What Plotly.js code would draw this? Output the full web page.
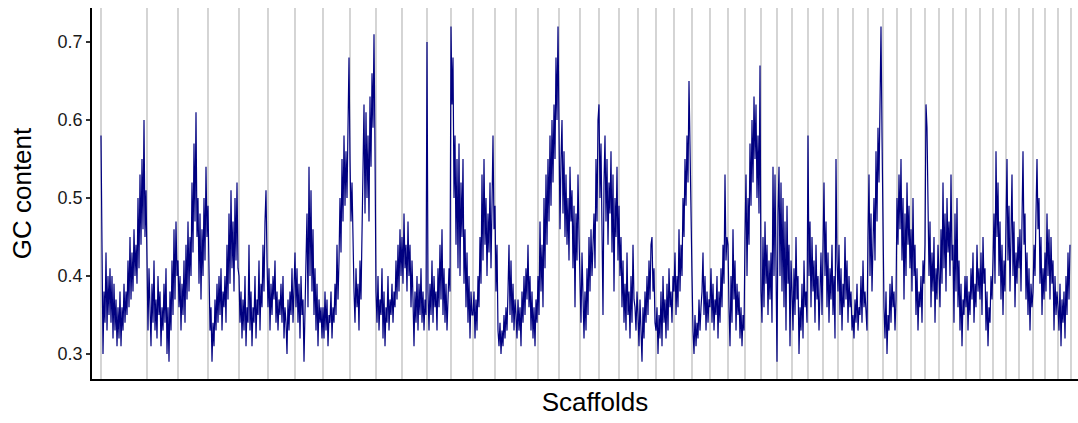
<!DOCTYPE html>
<html>
<head>
<meta charset="utf-8">
<script src="https://cdn.plot.ly/plotly-3.0.1.min.js"></script>
<style>html,body{margin:0;padding:0;overflow:hidden;background:#fff}</style>
</head>
<body>
<div id="chart" style="width:1098px;height:423px"></div>
<script>
// GC content per window, grouped by scaffold (scaffolds sorted by length)
const gcByScaffold = [
  [.58,.36,.30,.38,.34,.43,.33,.40,.35,.41,.34,.40,.32,.39,.33,.37,.31,.36,.32,.38,.31,.36,.33,.39,.34,.38,.35,.42,.36,.45,.37,.43,.38,.46,.40,.44,.39,.50,.41,.53,.44,.55,.46,.60,.45,.51],
  [.38,.33,.41,.35,.31,.39,.34,.42,.33,.37,.32,.40,.35,.38,.31,.36,.33,.39,.34,.41,.30,.36,.29,.38,.33,.42,.35,.46,.37,.47,.40],
  [.42,.36,.40,.33,.39,.35,.42,.34,.44,.37,.47,.38,.45,.40,.52,.43,.57,.47,.61,.45,.50,.39,.48,.37,.46,.40,.50,.42,.54,.45],
  [.49,.38,.33,.36,.29,.34,.31,.37,.33,.39,.34,.40,.35,.41,.33,.38,.36,.40,.34,.44,.37,.48,.39,.51,.41,.47,.38,.50,.42,.52,.41],
  [.40,.34,.38,.32,.37,.33,.40,.31,.36,.34,.44,.33,.38,.31,.36,.34,.40,.32,.37,.35,.42,.33,.39,.36,.44,.38,.47,.51,.42],
  [.36,.41,.33,.39,.35,.40,.37,.42,.34,.38,.33,.37,.35,.39,.34,.40,.32,.36,.34,.30,.37,.33,.38,.35,.41,.34,.38],
  [.43,.36,.41,.34,.39,.32,.40,.35,.37,.29,.38,.42,.48,.36,.54,.40,.51,.38,.46,.35,.41,.33,.39,.31,.37,.34,.36,.32],
  [.36,.32,.38,.33,.37,.31,.35,.34,.38,.32,.36,.34,.39,.35,.44,.37,.42,.50,.43,.55,.47,.58,.49,.56,.50,.61,.68],
  [.55,.47,.52,.42,.38,.34,.41,.36,.39,.33,.42,.37,.45,.52,.62,.48,.61,.50,.58,.47,.63,.54,.66,.59,.71,.56],
  [.38,.34,.40,.33,.37,.35,.41,.32,.38,.31,.36,.34,.40,.33,.37,.35,.39,.34,.38,.36,.42,.37,.44,.38,.46,.40],
  [.45,.39,.48,.41,.44,.38,.47,.40,.44,.36,.42,.37,.31,.38,.34,.40,.33,.39,.35,.41,.34,.38,.33,.37,.35],
  [.70,.38,.33,.39,.35,.42,.34,.40,.36,.38,.33,.41,.36,.44,.37,.46,.35,.41,.34,.39,.33,.37,.41,.38],
  [.72,.62,.68,.50,.58,.44,.55,.41,.57,.40,.52,.45,.55,.39,.46,.36,.43,.34,.40,.32,.38,.35],
  [.35,.38,.32,.37,.33,.40,.36,.45,.39,.53,.42,.55,.44,.50,.40,.48,.43,.52,.41,.49,.58,.46],
  [.49,.38,.44,.33,.31,.34,.30,.33,.31,.35,.32,.36,.33,.38,.44,.35,.42,.34,.39,.33,.37],
  [.35,.32,.37,.33,.36,.31,.38,.34,.40,.35,.41,.37,.44,.36,.40,.33,.38,.32,.36,.31,.37,.34],
  [.40,.35,.47,.38,.44,.36,.50,.41,.53,.44,.55,.47,.58,.49,.60,.52,.62,.55,.68,.60,.72],
  [.52,.46,.55,.60,.48,.56,.45,.53,.44,.50,.42,.54,.47,.51,.41,.49,.36,.48,.42,.53,.45],
  [.40,.34,.43,.36,.32,.38,.33,.41,.35,.45,.38,.46,.40,.44,.48,.41,.55,.47,.60],
  [.62,.50,.57,.46,.35,.52,.58,.47,.55,.44,.52,.48,.56,.43,.53,.38,.50,.45,.54,.42],
  [.49,.40,.45,.36,.42,.34,.39,.33,.43,.35,.38,.32,.40,.34,.44,.37,.36,.33,.38],
  [.35,.31,.37,.33,.29,.36,.32,.38,.34,.40,.35,.42,.37,.44,.45,.38,.41,.34],
  [.33,.36,.30,.35,.32,.38,.31,.40,.34,.37,.32,.39,.33,.41,.36,.38,.34,.40],
  [.38,.43,.35,.40,.36,.46,.38,.44,.40,.50,.45,.55,.49,.58,.52,.65,.55,.48],
  [.40,.33,.30,.35,.31,.34,.32,.37,.33,.36,.38,.43,.35,.40,.33,.38,.34,.37],
  [.36,.41,.34,.39,.33,.37,.35,.40,.32,.38,.34,.41,.36,.44,.39,.53,.42,.45],
  [.44,.36,.31,.40,.34,.46,.37,.42,.33,.39,.35,.38,.32,.36,.31,.35,.33],
  [.45,.53,.40,.50,.44,.57,.49,.60,.52,.63,.55,.62,.50,.58,.48,.67],
  [.38,.34,.45,.36,.47,.39,.44,.35,.42,.37,.43,.34,.54,.40,.53,.42],
  [.29,.48,.54,.40,.52,.38,.50,.36,.47,.33,.49,.39,.44,.31,.42],
  [.38,.33,.41,.35,.45,.37,.40,.30,.36,.33,.39,.32,.42,.36,.38,.34],
  [.58,.40,.47,.36,.45,.38,.42,.34,.44,.37,.40,.33,.38,.43,.35],
  [.45,.52,.40,.47,.36,.43,.34,.41,.37,.44,.35,.40,.32,.55,.42],
  [.38,.44,.35,.41,.33,.39,.36,.45,.37,.42,.34,.40,.36,.38,.33],
  [.35,.32,.37,.34,.39,.33,.36,.35,.40,.34,.42,.36,.38,.35,.33],
  [.45,.53,.40,.48,.38,.44,.50,.42,.56,.47,.59,.52,.66,.72,.58],
  [.41,.36,.32,.38,.30,.35,.33,.39,.34,.40,.36,.38,.33,.37],
  [.50,.44,.53,.46,.55,.42,.50,.37,.48,.40,.52,.44,.49,.41],
  [.46,.38,.50,.40,.44,.35,.41,.33,.38,.36,.40,.34,.42,.39],
  [.44,.62,.59,.45,.40,.47,.36,.43,.38,.45,.34,.41,.37,.44],
  [.40,.36,.46,.39,.52,.41,.48,.38,.50,.43,.47,.40,.53,.42],
  [.44,.34,.48,.38,.50,.36,.42,.33,.39,.31,.37,.35,.40],
  [.36,.40,.33,.38,.35,.41,.37,.43,.34,.39,.36,.44,.38,.41],
  [.37,.43,.35,.45,.39,.41,.33,.38,.31,.36,.34,.40,.37],
  [.42,.48,.39,.56,.45,.52,.40,.47,.37,.44,.35,.42,.38],
  [.45,.55,.42,.49,.38,.46,.53,.40,.47,.36,.43,.39,.45],
  [.41,.46,.38,.50,.56,.44,.48,.37,.43,.35,.41,.33,.39,.36],
  [.38,.44,.40,.48,.55,.46,.50,.39,.45,.35,.41,.37],
  [.43,.38,.48,.40,.46,.37,.45,.39,.42,.33,.40,.35,.38],
  [.36,.33,.39,.31,.37,.34,.38,.32,.40,.35,.43,.37,.44]
];
const yTickVals = [0.3, 0.4, 0.5, 0.6, 0.7];
const yTickText = ["0.3", "0.4", "0.5", "0.6", "0.7"];
const xTitle = "Scaffolds";
const yTitle = "GC content";

// build the series and the scaffold boundaries
const xs = [], ys = [], boundaries = [0];
let pos = 0;
gcByScaffold.forEach(arr => {
  arr.forEach(v => { xs.push(pos); ys.push(v); pos += 1; });
  boundaries.push(pos);
});

const shapes = boundaries.map(b => ({
  type: "line", xref: "x", yref: "paper", x0: b, x1: b, y0: 0, y1: 1,
  line: {color: "#bebebe", width: 1.3}, layer: "below"
}));

const trace = {
  x: xs, y: ys, type: "scatter", mode: "lines",
  line: {color: "#000080", width: 1.2}, hoverinfo: "skip"
};

const font = "Liberation Sans, Arial, Helvetica, sans-serif";
const layout = {
  width: 1098, height: 423,
  margin: {l: 92, r: 0, t: 8, b: 44},
  paper_bgcolor: "#fff", plot_bgcolor: "#fff",
  showlegend: false,
  font: {family: font, color: "#000"},
  shapes: shapes,
  xaxis: {
    range: [-9, 997], showgrid: false, zeroline: false,
    showticklabels: false, ticks: "",
    showline: true, linecolor: "#000", linewidth: 1.8,
    title: {text: xTitle, font: {size: 26, family: font, color: "#000"}, standoff: 13},
    automargin: false
  },
  yaxis: {
    range: [0.26795, 0.74359], showgrid: false, zeroline: false,
    tickmode: "array", tickvals: yTickVals, ticktext: yTickText,
    ticks: "outside", ticklen: 4, tickwidth: 1.3, tickcolor: "#333",
    tickfont: {size: 18, family: font, color: "#1a1a1a"},
    showline: true, linecolor: "#000", linewidth: 1.8,
    title: {text: yTitle, font: {size: 26, family: font, color: "#000"}, standoff: 18},
    automargin: false
  }
};

Plotly.newPlot("chart", [trace], layout, {displayModeBar: false, staticPlot: true});
</script>
</body>
</html>
